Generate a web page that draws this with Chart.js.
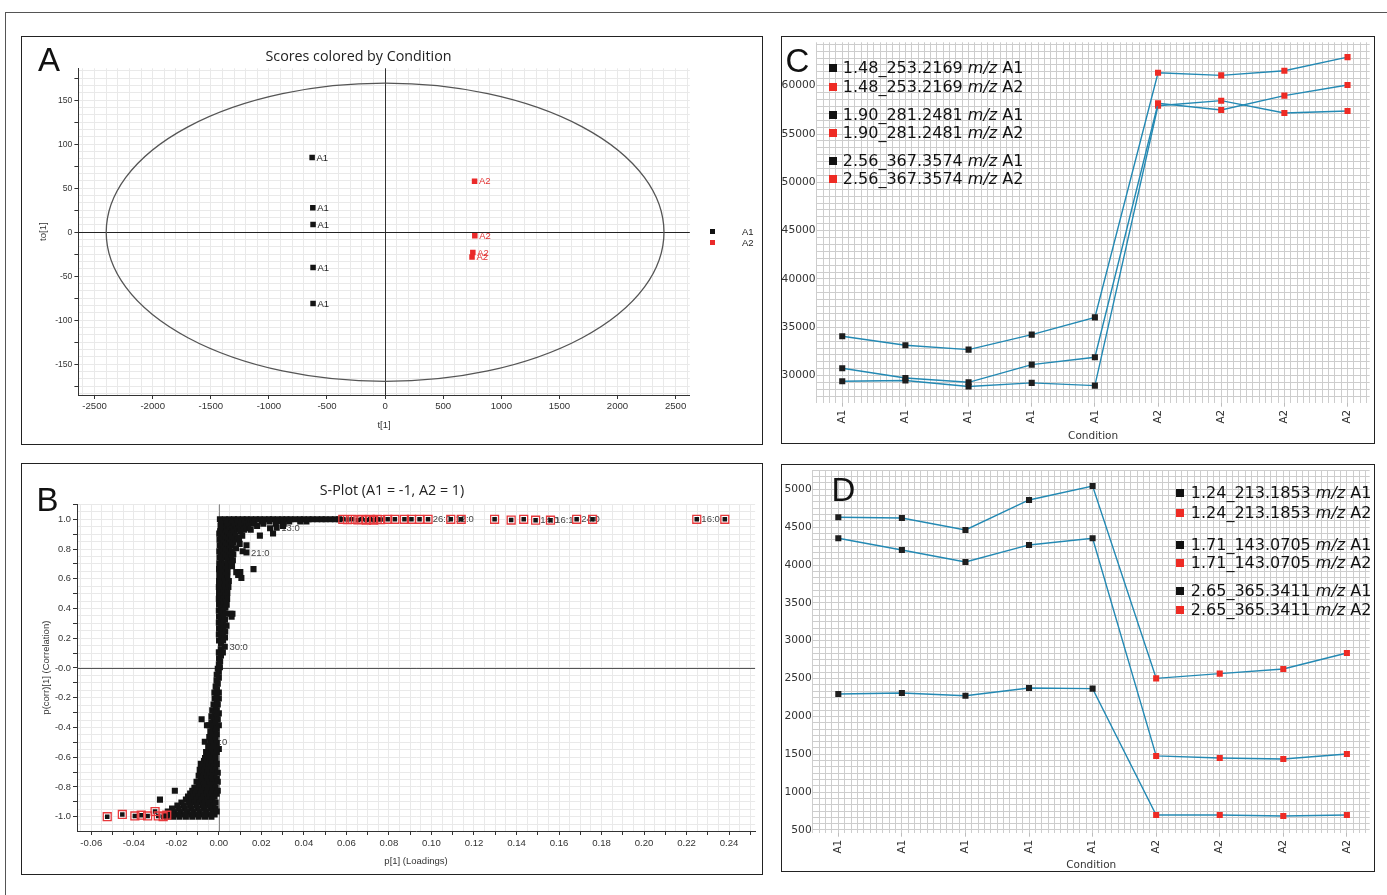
<!DOCTYPE html>
<html>
<head>
<meta charset="utf-8">
<title>Scores, S-plot and feature profiles</title>
<script src="https://cdn.jsdelivr.net/npm/chart.js@4.4.1/dist/chart.umd.min.js"></script>
<style>
  html, body { margin: 0; padding: 0; background: #fff; }
  body { width: 1387px; height: 895px; position: relative; overflow: hidden; font-family: "Liberation Sans", Arial, sans-serif; }
  .frame { position: absolute; left: 5px; top: 12px; width: 1400px; height: 900px; border: 1px solid #555; }
  .panel { position: absolute; box-sizing: border-box; border: 1px solid #222; background: #fff; }
  .panel .inner { position: absolute; left: 0; top: 0; right: 0; bottom: 0; }
  .letter { position: absolute; font-size: 33px; line-height: 33px; color: #111; }
  .ptitle { position: absolute; width: 300px; text-align: center; font-family: "Open Sans", sans-serif; font-size: 14.3px; line-height: 18px; color: #222; white-space: nowrap; }
  .leg { position: absolute; font-family: "DejaVu Sans", sans-serif; font-size: 16px; color: #111; white-space: nowrap; }
  .leg .sq { position: absolute; left: 0; width: 8px; height: 8px; }
  .legA { position: absolute; font-size: 9.5px; line-height: 11px; color: #222; }
  .legA .sq { position: absolute; width: 5px; height: 5px; }
</style>
</head>
<body>
<div class="frame"></div>

<div class="panel" style="left:21px; top:36px; width:742px; height:409px;"><div class="inner"><canvas id="chartA"></canvas></div></div>
<div class="panel" style="left:21px; top:463px; width:742px; height:412px;"><div class="inner"><canvas id="chartB"></canvas></div></div>
<div class="panel" style="left:781px; top:36px; width:594px; height:408px;"><div class="inner"><canvas id="chartC"></canvas></div></div>
<div class="panel" style="left:781px; top:464px; width:594px; height:408px;"><div class="inner"><canvas id="chartD"></canvas></div></div>

<div class="letter" style="left:38px; top:42.7px;">A</div>
<div class="letter" style="left:36.5px; top:483px;">B</div>
<div class="letter" style="left:785.5px; top:44px;">C</div>
<div class="letter" style="left:831.5px; top:473px;">D</div>

<div class="ptitle" style="left:208.5px; top:46.5px;">Scores colored by Condition</div>
<div class="ptitle" style="left:242px; top:481px;">S-Plot (A1 = -1, A2 = 1)</div>

<div class="legA" style="left:710px; top:226px;"><span class="sq" style="left:0; top:3px; background:#111;"></span><span style="position:absolute; left:32px;">A1</span></div>
<div class="legA" style="left:710px; top:237px;"><span class="sq" style="left:0; top:3px; background:#ea2a2a;"></span><span style="position:absolute; left:32px;">A2</span></div>

<div id="legends"></div>

<script>
// ---------- panel A: OPLS-DA scores ----------
const scoreA1 = [[-628, 85], [-622, 28], [-620, 9], [-620, -40], [-620, -81]];
const scoreA2 = [[770, 58], [772, -4], [755, -23], [748, -28]];
const ellipseT = 2400;     // Hotelling ellipse half-width on t[1]
const ellipseTo = 169.5;   // Hotelling ellipse half-height on to[1]

// ---------- panel B: S-plot ----------
// rows of the dense cloud: [p(corr), [p values]]
const sPlotRows = [
  [1.000, [0.0005, 0.0028, 0.0049, 0.0071, 0.0090, 0.0112, 0.0131, 0.0152, 0.0174, 0.0193, 0.0215, 0.0236, 0.0254, 0.0277, 0.0298, 0.0318, 0.0337, 0.0359, 0.0381, 0.0400, 0.0422, 0.0441, 0.0463, 0.0484, 0.0502, 0.0525, 0.0546, 0.0566]],
  [0.985, [0.0010, 0.0032, 0.0055, 0.0081, 0.0108, 0.0139, 0.0168, 0.0201, 0.0238, 0.0279, 0.0331, 0.0383, 0.0412]],
  [0.970, [0.0012, 0.0035, 0.0061, 0.0090, 0.0121, 0.0158, 0.0209, 0.0268, 0.0305]],
  [0.955, [0.0008, 0.0040, 0.0072, 0.0101, 0.0138, 0.0180, 0.0302]],
  [0.940, [0.0011, 0.0034, 0.0062, 0.0093, 0.0124, 0.0241]],
  [0.930, [0.0016, 0.0050, 0.0085, 0.0118, 0.0150]],
  [0.920, [0.0006, 0.0038, 0.0071, 0.0102]],
  [0.905, [0.0002, 0.0030, 0.0058, 0.0255]],
  [0.890, [0.0010, 0.0041, 0.0079, 0.0110, 0.0193]],
  [0.875, [0.0020, 0.0052, 0.0095]],
  [0.865, [0.0003, 0.0031, 0.0062, 0.0088]],
  [0.845, [0.0012, 0.0043, 0.0069]],
  [0.835, [0.0022, 0.0052, 0.0098]],
  [0.825, [0.0004, 0.0033, 0.0060, 0.0130]],
  [0.805, [0.0011, 0.0042, 0.0081]],
  [0.795, [0.0020, 0.0050]],
  [0.785, [0.0002, 0.0030, 0.0061, 0.0112]],
  [0.765, [0.0010, 0.0039, 0.0068]],
  [0.755, [0.0020, 0.0048]],
  [0.745, [0.0003, 0.0031, 0.0058]],
  [0.725, [0.0012, 0.0041, 0.0066]],
  [0.705, [0.0002, 0.0029, 0.0057]],
  [0.685, [0.0010, 0.0040, 0.0062]],
  [0.665, [0.0001, 0.0030, 0.0163]],
  [0.645, [0.0011, 0.0041, 0.0082, 0.0101]],
  [0.625, [0.0002, 0.0031, 0.0091]],
  [0.605, [0.0010, 0.0040, 0.0106]],
  [0.585, [0.0001, 0.0029, 0.0047]],
  [0.565, [0.0010, 0.0032]],
  [0.545, [0.0000, 0.0028, 0.0045]],
  [0.525, [0.0011, 0.0031]],
  [0.505, [0.0001, 0.0022, 0.0040]],
  [0.485, [0.0010, 0.0030]],
  [0.465, [0.0000, 0.0021, 0.0039]],
  [0.445, [0.0011, 0.0030]],
  [0.425, [0.0001, 0.0020, 0.0037]],
  [0.405, [0.0010, 0.0031]],
  [0.385, [0.0000, 0.0022]],
  [0.365, [0.0011, 0.0030, 0.0055, 0.0064]],
  [0.345, [0.0001, 0.0021, 0.0060]],
  [0.325, [0.0010, 0.0029]],
  [0.305, [0.0000, 0.0020]],
  [0.285, [0.0011, 0.0036]],
  [0.265, [0.0001, 0.0021]],
  [0.245, [0.0010, 0.0030]],
  [0.225, [0.0000, 0.0019]],
  [0.205, [0.0011, 0.0029]],
  [0.185, [0.0001, 0.0020]],
  [0.165, [0.0010]],
  [0.125, [0.0009]],
  [0.105, [0.0000, 0.0019]],
  [0.085, [0.0010]],
  [0.065, [0.0001]],
  [0.045, [0.0006]],
  [0.025, [0.0000]],
  [0.005, [0.0005]],
  [-0.005, [-0.0005]],
  [-0.025, [0.0000]],
  [-0.045, [-0.0010]],
  [-0.065, [0.0000]],
  [-0.085, [-0.0011]],
  [-0.105, [-0.0005]],
  [-0.125, [-0.0015]],
  [-0.145, [-0.0009]],
  [-0.165, [-0.0021, 0.0000]],
  [-0.185, [-0.0011]],
  [-0.205, [-0.0020, 0.0000]],
  [-0.225, [-0.0010]],
  [-0.245, [-0.0025, -0.0005]],
  [-0.265, [-0.0015]],
  [-0.285, [-0.0031, -0.0010]],
  [-0.305, [-0.0020, 0.0000]],
  [-0.325, [-0.0035, -0.0011]],
  [-0.345, [-0.0025, -0.0005, -0.0081]],
  [-0.365, [-0.0035, -0.0015]],
  [-0.385, [-0.0045, -0.0020, 0.0000, -0.0056]],
  [-0.405, [-0.0030, -0.0010]],
  [-0.425, [-0.0040, -0.0015]],
  [-0.445, [-0.0035, -0.0010]],
  [-0.465, [-0.0045, -0.0020]],
  [-0.485, [-0.0040, -0.0015]],
  [-0.505, [-0.0035, -0.0010]],
  [-0.525, [-0.0050, -0.0025]],
  [-0.545, [-0.0045, -0.0020, 0.0000]],
  [-0.565, [-0.0060, -0.0035, -0.0010]],
  [-0.585, [-0.0050, -0.0025]],
  [-0.605, [-0.0065, -0.0040, -0.0015]],
  [-0.625, [-0.0070, -0.0045, -0.0020]],
  [-0.645, [-0.0085, -0.0060, -0.0035, -0.0010]],
  [-0.665, [-0.0075, -0.0050, -0.0025]],
  [-0.685, [-0.0090, -0.0065, -0.0040, -0.0015]],
  [-0.705, [-0.0080, -0.0055, -0.0030, -0.0005]],
  [-0.725, [-0.0095, -0.0070, -0.0045, -0.0020]],
  [-0.745, [-0.0085, -0.0060, -0.0035, -0.0010]],
  [-0.765, [-0.0105, -0.0080, -0.0055, -0.0030, -0.0005]],
  [-0.785, [-0.0095, -0.0070, -0.0045, -0.0020]],
  [-0.805, [-0.0115, -0.0090, -0.0065, -0.0040, -0.0015]],
  [-0.825, [-0.0125, -0.0105, -0.0080, -0.0055, -0.0030, -0.0005, -0.0207]],
  [-0.845, [-0.0135, -0.0110, -0.0085, -0.0060, -0.0035, -0.0010]],
  [-0.865, [-0.0145, -0.0120, -0.0095, -0.0070, -0.0045, -0.0020]],
  [-0.885, [-0.0155, -0.0130, -0.0105, -0.0080, -0.0055, -0.0030, -0.0277]],
  [-0.905, [-0.0176, -0.0140, -0.0115, -0.0090, -0.0065, -0.0040, -0.0015]],
  [-0.925, [-0.0195, -0.0165, -0.0135, -0.0105, -0.0075, -0.0050, -0.0025]],
  [-0.945, [-0.0220, -0.0190, -0.0160, -0.0130, -0.0100, -0.0070, -0.0040, -0.0015]],
  [-0.965, [-0.0240, -0.0210, -0.0180, -0.0150, -0.0120, -0.0090, -0.0060, -0.0030, -0.0010]],
  [-0.985, [-0.0250, -0.0220, -0.0190, -0.0160, -0.0130, -0.0100, -0.0070, -0.0040, -0.0020]],
  [-1.000, [-0.0245, -0.0215, -0.0185, -0.0155, -0.0125, -0.0095, -0.0065, -0.0035]]
];
// named variables in the cloud: [p, p(corr), label]
const sLabelled = [
  [0.0130, 0.777, '21:0'],
  [0.0028, 0.143, '30:0'],
  [0.0272, 0.943, '13:0'],
  [-0.0066, -0.496, '11:0']
];
// variables picked out with red boxes
const sBoxHigh = [
  [0.0583, 1.0], [0.0605, 0.998], [0.0627, 1.0], [0.0654, 0.996], [0.0672, 1.0],
  [0.0694, 0.995], [0.0712, 1.0], [0.0728, 0.994], [0.0745, 1.0], [0.0761, 0.998],
  [0.0794, 1.0], [0.0828, 1.0], [0.0873, 1.0], [0.0906, 1.0], [0.0944, 1.0],
  [0.0984, 1.0, '26:0'], [0.1091, 1.0, '12:0'], [0.1140, 1.0], [0.1297, 1.0],
  [0.1375, 0.995], [0.1434, 1.0], [0.1490, 0.994, '14:0'], [0.1560, 0.994, '16:1'],
  [0.1683, 1.0, '24:0'], [0.1758, 1.0], [0.2248, 1.0, '16:0'], [0.2380, 1.0]
];
const sBoxLow = [
  [-0.0525, -1.0], [-0.0454, -0.985], [-0.0395, -0.995], [-0.0365, -0.99], [-0.0335, -0.995],
  [-0.0300, -0.965], [-0.0285, -0.995], [-0.0262, -1.0], [-0.0245, -0.99]
];

// ---------- panels C and D: feature profiles ----------
const conditions = ['A1', 'A1', 'A1', 'A1', 'A1', 'A2', 'A2', 'A2', 'A2'];
const featuresC = ['1.48_253.2169', '1.90_281.2481', '2.56_367.3574'];
const seriesC1 = [34070, 33140, 32690, 34240, 36030, 61340, 61070, 61550, 62960];
const seriesC2 = [30760, 29760, 29310, 31140, 31900, 58180, 57490, 58970, 60070];
const seriesC3 = [29420, 29490, 28870, 29250, 28970, 57930, 58450, 57180, 57380];
const featuresD = ['1.24_213.1853', '1.71_143.0705', '2.65_365.3411'];
const seriesD1 = [4630, 4621, 4463, 4859, 5044, 2503, 2565, 2627, 2838];
const seriesD2 = [4353, 4199, 4040, 4265, 4353, 1478, 1451, 1438, 1504];
const seriesD3 = [2297, 2310, 2274, 2376, 2367, 698, 698, 685, 698];

// ---------- helpers ----------
Chart.defaults.font.family = '"Liberation Sans", Arial, sans-serif';
const DEJAVU = '"DejaVu Sans", sans-serif';
const BLACK = '#141414';
const RED = '#ea2a2a';
const LINE = '#2389b3';
const GRID_CD = '#cdcdcd';

const near = (v, m) => Math.abs(v / m - Math.round(v / m)) < 1e-6;
const isZero = v => Math.abs(v) < 1e-9;

// pin the axis box sizes so the plot area lands where the original has it
function fixScale(w, h) {
  return s => {
    if (w != null) s.width = w;
    if (h != null) s.height = h;
    s.paddingLeft = 0; s.paddingRight = 0; s.paddingTop = 0; s.paddingBottom = 0;
  };
}

// one tick (grid line) at every multiple of step inside the axis range
function gridTicks(step) {
  return s => {
    const out = [];
    const k0 = Math.ceil(s.min / step - 1e-9);
    const k1 = Math.floor(s.max / step + 1e-9);
    for (let k = k0; k <= k1; k++) out.push({ value: Math.round(k * step * 1e9) / 1e9 });
    s.ticks = out;
  };
}

function drawMarkLabels(chart, layer) {
  const ctx = chart.ctx;
  chart.data.datasets.forEach((ds, i) => {
    const ml = ds.markLabels;
    if (!ml || ml.layer !== layer) return;
    const meta = chart.getDatasetMeta(i);
    ctx.save();
    ctx.font = ml.font;
    ctx.fillStyle = ml.color;
    ctx.textBaseline = 'middle';
    meta.data.forEach((pt, j) => {
      const t = ml.texts[j];
      if (t) ctx.fillText(t, pt.x + ml.dx, pt.y + 0.5);
    });
    ctx.restore();
  });
}

const markLabelPlugin = {
  id: 'markLabels',
  beforeDatasetsDraw(chart) { drawMarkLabels(chart, 'under'); },
  afterDatasetsDraw(chart) { drawMarkLabels(chart, 'over'); }
};

// zero lines go over the light grid so they stay solid
const zeroLinePlugin = {
  id: 'zeroLines',
  beforeDatasetsDraw(chart, args, opts) {
    const { ctx, chartArea: a, scales: { x, y } } = chart;
    ctx.save();
    ctx.lineWidth = 1;
    const px = Math.round(x.getPixelForValue(0)) + 0.5;
    ctx.strokeStyle = opts.vColor;
    ctx.beginPath(); ctx.moveTo(px, a.top); ctx.lineTo(px, a.bottom); ctx.stroke();
    const py = Math.round(y.getPixelForValue(0)) + 0.5;
    ctx.strokeStyle = opts.hColor;
    ctx.beginPath(); ctx.moveTo(a.left, py); ctx.lineTo(a.right, py); ctx.stroke();
    ctx.restore();
  }
};

const ellipsePlugin = {
  id: 'hotelling',
  beforeDatasetsDraw(chart) {
    const { ctx, scales: { x, y } } = chart;
    const cx = x.getPixelForValue(0);
    const cy = y.getPixelForValue(0);
    const rx = x.getPixelForValue(ellipseT) - cx;
    const ry = cy - y.getPixelForValue(ellipseTo);
    ctx.save();
    ctx.strokeStyle = '#555';
    ctx.lineWidth = 1.3;
    ctx.beginPath();
    ctx.ellipse(cx, cy, rx, ry, 0, 0, Math.PI * 2);
    ctx.stroke();
    ctx.restore();
  }
};

const common = {
  responsive: true,
  maintainAspectRatio: false,
  animation: false,
  events: []
};

// ---------- chart A ----------
new Chart(document.getElementById('chartA'), {
  type: 'scatter',
  data: {
    datasets: [
      {
        data: scoreA1.map(([x, y]) => ({ x, y })),
        pointStyle: 'rect', pointRadius: 3.9, pointBorderWidth: 0, backgroundColor: BLACK,
        markLabels: { texts: scoreA1.map(() => 'A1'), color: '#222', font: '9.5px "Liberation Sans"', dx: 4.4, layer: 'over' }
      },
      {
        data: scoreA2.map(([x, y]) => ({ x, y })),
        pointStyle: 'rect', pointRadius: 3.9, pointBorderWidth: 0, backgroundColor: RED,
        markLabels: { texts: scoreA2.map(() => 'A2'), color: '#e33030', font: '9.5px "Liberation Sans"', dx: 4.4, layer: 'over' }
      }
    ]
  },
  options: {
    ...common,
    plugins: { legend: { display: false }, tooltip: { enabled: false }, zeroLines: { vColor: '#333', hColor: '#222' } },
    layout: { padding: { left: 0, top: 31.3, right: 72.2, bottom: 0 } },
    scales: {
      x: {
        type: 'linear', min: -2639.4, max: 2622.2, bounds: 'data',
        afterFit: fixScale(null, 49),
        afterBuildTicks: gridTicks(100),
        border: { display: true, color: '#333', width: 1 },
        grid: {
          color: '#e9e9e9', lineWidth: 1, tickLength: 4,
          tickColor: c => near(c.tick.value, 250) ? '#333' : 'rgba(0,0,0,0)'
        },
        ticks: {
          autoSkip: false, maxRotation: 0, minRotation: 0,
          padding: 2, color: '#333', font: { size: 9.6 },
          callback: v => near(v, 500) ? String(Math.round(v)) : ''
        },
        title: { display: true, text: 't[1]', color: '#333', font: { size: 9.6 }, padding: { top: 0, bottom: 13.2 } }
      },
      y: {
        type: 'linear', min: -184.9, max: 186.4, bounds: 'data',
        afterFit: fixScale(56.4, null),
        afterBuildTicks: gridTicks(25 / 3),
        border: { display: true, color: '#333', width: 1 },
        grid: {
          color: '#e9e9e9', lineWidth: 1, tickLength: 4,
          tickColor: c => near(c.tick.value, 25) ? '#333' : 'rgba(0,0,0,0)'
        },
        ticks: {
          autoSkip: false,
          padding: 2, color: '#333', font: { size: 8.6 },
          callback: v => near(v, 50) ? String(Math.round(v)) : ''
        },
        title: { display: true, text: 'to[1]', color: '#333', font: { size: 9.6 }, padding: { top: 16, bottom: 0 } }
      }
    }
  },
  plugins: [zeroLinePlugin, ellipsePlugin, markLabelPlugin]
});

// ---------- chart B ----------
const sCloud = [];
sPlotRows.forEach(([corr, ps]) => ps.forEach(p => sCloud.push({ x: p, y: corr })));
sLabelled.forEach(([p, corr]) => sCloud.push({ x: p, y: corr }));
const sCloudTexts = sCloud.map((_, i) => {
  const k = i - (sCloud.length - sLabelled.length);
  return k >= 0 ? sLabelled[k][2] : '';
});
const sBoxed = sBoxHigh.concat(sBoxLow);

new Chart(document.getElementById('chartB'), {
  type: 'scatter',
  data: {
    datasets: [
      {
        data: sBoxed.map(([x, y]) => ({ x, y })),
        pointStyle: 'rect', pointRadius: 5.6, pointBorderWidth: 1.3,
        backgroundColor: 'rgba(0,0,0,0)', borderColor: '#e8393c'
      },
      {
        data: sBoxed.map(([x, y]) => ({ x, y })),
        pointStyle: 'rect', pointRadius: 3.2, pointBorderWidth: 0, backgroundColor: BLACK,
        markLabels: { texts: sBoxed.map(b => b[2] || ''), color: '#444', font: '9.5px "Liberation Sans"', dx: 4.6, layer: 'under' }
      },
      {
        data: sCloud,
        pointStyle: 'rect', pointRadius: 4.3, pointBorderWidth: 0, backgroundColor: BLACK,
        markLabels: { texts: sCloudTexts, color: '#444', font: '9.5px "Liberation Sans"', dx: 4.6, layer: 'under' }
      }
    ]
  },
  options: {
    ...common,
    plugins: { legend: { display: false }, tooltip: { enabled: false }, zeroLines: { vColor: '#8a8a8a', hColor: '#555' } },
    layout: { padding: { left: 0, top: 40.3, right: 5.7, bottom: 0 } },
    scales: {
      x: {
        type: 'linear', min: -0.06672, max: 0.25224, bounds: 'data',
        afterFit: fixScale(null, 43),
        afterBuildTicks: gridTicks(0.005),
        border: { display: true, color: '#333', width: 1 },
        grid: {
          color: '#e9e9e9', lineWidth: 1, tickLength: 4,
          tickColor: c => near(c.tick.value, 0.01) ? '#333' : 'rgba(0,0,0,0)'
        },
        ticks: {
          autoSkip: false, maxRotation: 0, minRotation: 0,
          padding: 3, color: '#333', font: { size: 9.6 },
          callback: v => near(v, 0.02) ? v.toFixed(2) : ''
        },
        title: { display: true, text: 'p[1] (Loadings)', color: '#333', font: { size: 9.5 }, padding: { top: 0, bottom: 6.5 } }
      },
      y: {
        type: 'linear', min: -1.0962, max: 1.1009, bounds: 'data',
        afterFit: fixScale(55, null),
        afterBuildTicks: gridTicks(0.05),
        border: { display: true, color: '#333', width: 1 },
        grid: {
          color: '#e9e9e9', lineWidth: 1, tickLength: 4,
          tickColor: c => near(c.tick.value, 0.1) ? '#333' : 'rgba(0,0,0,0)'
        },
        ticks: {
          autoSkip: false,
          padding: 2, color: '#333', font: { size: 9.3 },
          callback: v => near(v, 0.2) ? (isZero(v) ? '-0.0' : v.toFixed(1)) : ''
        },
        title: { display: true, text: 'p(corr)[1] (Correlation)', color: '#333', font: { size: 9.5 }, padding: { top: 18.3, bottom: 0 } }
      }
    }
  },
  plugins: [zeroLinePlugin, markLabelPlugin]
});

// ---------- charts C and D ----------
function makeProfile(canvasId, seriesList, o) {
  return new Chart(document.getElementById(canvasId), {
    type: 'line',
    data: {
      datasets: seriesList.map(vals => ({
        data: vals.map((v, i) => ({ x: i, y: v })),
        borderColor: LINE, borderWidth: 1.4, tension: 0,
        pointStyle: 'rect', pointRadius: 4.3, pointBorderWidth: 0,
        pointBorderColor: 'rgba(0,0,0,0)',
        pointBackgroundColor: conditions.map(c => c === 'A1' ? '#1e1e1e' : '#ee2b24')
      }))
    },
    options: {
      ...common,
      plugins: { legend: { display: false }, tooltip: { enabled: false } },
      layout: { padding: { left: 0, top: o.top, right: o.right, bottom: 0 } },
      scales: {
        x: {
          type: 'linear', min: o.xMin, max: o.xMax, bounds: 'data',
          afterFit: fixScale(null, o.xH),
          afterBuildTicks: gridTicks(0.1),
          border: { display: false },
          grid: {
            color: GRID_CD, lineWidth: 1, tickLength: 4,
            tickColor: c => near(c.tick.value, 1) ? '#bdbdbd' : 'rgba(0,0,0,0)'
          },
          ticks: {
            autoSkip: false, minRotation: 90, maxRotation: 90,
            padding: 3, color: '#333', font: { family: DEJAVU, size: 10.5 },
            callback: v => near(v, 1) ? (conditions[Math.round(v)] || '') : ''
          },
          title: { display: true, text: 'Condition', color: '#333', font: { family: DEJAVU, size: 10.5, lineHeight: 1 }, padding: { top: 0, bottom: o.titlePad } }
        },
        y: {
          type: 'linear', min: o.yMin, max: o.yMax, bounds: 'data',
          afterFit: fixScale(o.yW, null),
          afterBuildTicks: gridTicks(o.yStep),
          border: { display: false },
          grid: { color: GRID_CD, lineWidth: 1, drawTicks: false },
          ticks: {
            autoSkip: false,
            padding: 1, color: '#333', font: { family: DEJAVU, size: 10.7 },
            callback: v => near(v, o.yMajor) ? String(Math.round(v)) : ''
          }
        }
      }
    }
  });
}

makeProfile('chartC', [seriesC1, seriesC2, seriesC3], {
  top: 5.3, right: 1, xH: 40.3, yW: 34.6, titlePad: 1,
  xMin: -0.406, xMax: 8.351, yMin: 27200, yMax: 64490, yStep: 5000 / 7, yMajor: 5000
});
makeProfile('chartD', [seriesD1, seriesD2, seriesD3], {
  top: 5, right: 0, xH: 38.3, yW: 30.7, titlePad: 0,
  xMin: -0.403, xMax: 8.359, yMin: 464, yMax: 5255, yStep: 500 / 6, yMajor: 500
});

// ---------- legends for C and D ----------
function buildLegend(features, sqLeft, textLeft, centers, lineH) {
  const host = document.getElementById('legends');
  let k = 0;
  features.forEach(f => {
    ['A1', 'A2'].forEach(cond => {
      const row = document.createElement('div');
      row.className = 'leg';
      row.style.left = sqLeft + 'px';
      row.style.top = (centers[k] - lineH / 2) + 'px';
      row.style.lineHeight = lineH + 'px';
      row.style.height = lineH + 'px';
      const sq = document.createElement('span');
      sq.className = 'sq';
      sq.style.top = ((lineH - 8) / 2) + 'px';
      sq.style.background = cond === 'A1' ? '#111' : '#ee2b24';
      const txt = document.createElement('span');
      txt.style.position = 'absolute';
      txt.style.left = (textLeft - sqLeft) + 'px';
      txt.innerHTML = f + ' <i>m/z</i> ' + cond;
      row.appendChild(sq);
      row.appendChild(txt);
      host.appendChild(row);
      k++;
    });
  });
}
buildLegend(featuresC, 828.9, 842.8, [68.3, 86.7, 115, 132.7, 161, 179], 18);
buildLegend(featuresD, 1176, 1190.8, [492.7, 512.7, 545, 562.7, 591, 610], 18);
</script>
</body>
</html>
